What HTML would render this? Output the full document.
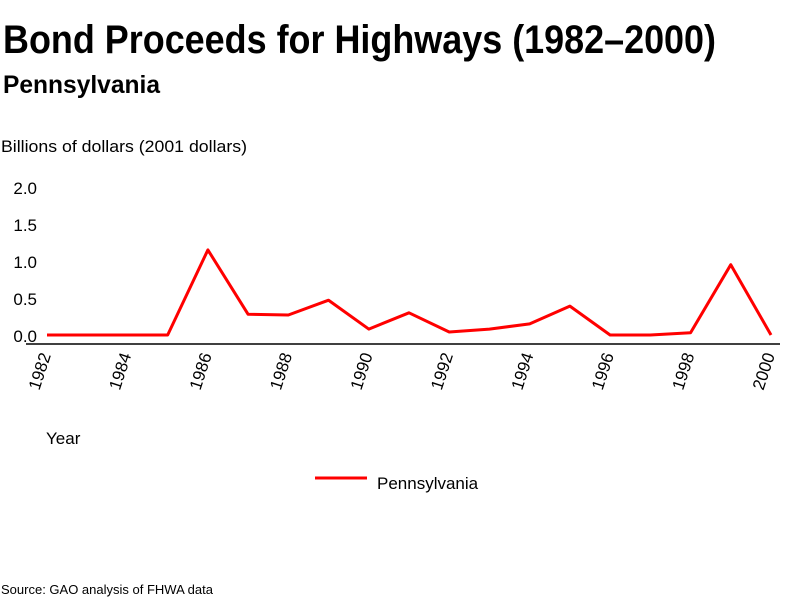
<!DOCTYPE html>
<html><head><meta charset="utf-8"><style>
body{margin:0;background:#fff;}
svg{display:block;font-family:"Liberation Sans",sans-serif;}
</style></head><body>
<svg id="chart" width="800" height="600">
<text x="3" y="53" font-size="40" font-weight="bold" textLength="713" lengthAdjust="spacingAndGlyphs">Bond Proceeds for Highways (1982–2000)</text>
<text x="3" y="93" font-size="25" font-weight="bold" textLength="157" lengthAdjust="spacingAndGlyphs">Pennsylvania</text>
<text x="1" y="152" font-size="17" textLength="246" lengthAdjust="spacingAndGlyphs">Billions of dollars (2001 dollars)</text>
<line x1="26" y1="344" x2="780" y2="344" stroke="#000" stroke-width="1.5"/>
<g id="yticks"></g><g id="xticks"></g>
<polyline id="line" fill="none" stroke="#f00" stroke-width="3" stroke-linejoin="round"/>
<text x="46" y="444" font-size="17">Year</text>
<line x1="315" y1="478" x2="367" y2="478" stroke="#f00" stroke-width="3"/>
<text x="377" y="489" font-size="17">Pennsylvania</text>
<text x="1" y="594" font-size="13">Source: GAO analysis of FHWA data</text>
</svg>
<script>
const years=[1982,1983,1984,1985,1986,1987,1988,1989,1990,1991,1992,1993,1994,1995,1996,1997,1998,1999,2000];
const values=[0.0,0.0,0.0,0.0,1.15,0.28,0.27,0.47,0.08,0.3,0.04,0.08,0.15,0.39,0.0,0.0,0.03,0.95,0.0];
const yTicks=[0,0.5,1.0,1.5,2.0];
const xTickLabels=[1982,1984,1986,1988,1990,1992,1994,1996,1998,2000];
const NS="http://www.w3.org/2000/svg";
const xs=y=>47+(y-1982)*(771-47)/18;
const ys=v=>335-v*74;
const yg=document.getElementById('yticks');
yTicks.forEach(t=>{
 const el=document.createElementNS(NS,'text');
 el.setAttribute('x',37);el.setAttribute('y',ys(t)+7);
 el.setAttribute('text-anchor','end');el.setAttribute('font-size','17');
 el.textContent=t.toFixed(1);
 
 
 yg.appendChild(el);
});
const xg=document.getElementById('xticks');
xTickLabels.forEach(t=>{
 const el=document.createElementNS(NS,'text');
 const x=xs(t)+4,y=355;
 el.setAttribute('x',x);el.setAttribute('y',y);
 el.setAttribute('text-anchor','end');el.setAttribute('font-size','17');
 el.setAttribute('transform','rotate(-72 '+x+' '+y+')');
 el.textContent=t;
 
 
 xg.appendChild(el);
});
document.getElementById('line').setAttribute('points',years.map((y,i)=>xs(y)+','+ys(values[i])).join(' '));
</script>
</body></html>
